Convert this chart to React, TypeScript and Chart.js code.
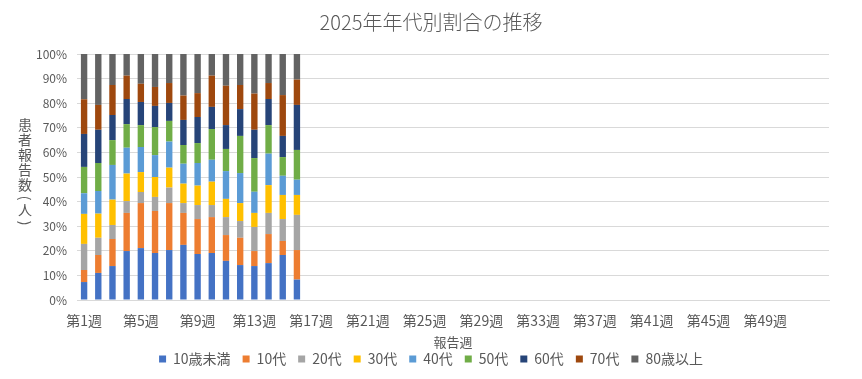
import React, { useEffect, useRef } from "react";
import { Chart, registerables } from "chart.js";

Chart.register(...registerables);

const weeks: string[] = Array.from({ length: 53 }, (_, i) => `第${i + 1}週`);

const seriesNames = ["10歳未満", "10代", "20代", "30代", "40代", "50代", "60代", "70代", "80歳以上"];
const seriesColors = ["#4472C4", "#ED7D31", "#A5A5A5", "#FFC000", "#5B9BD5", "#70AD47", "#264478", "#9E480E", "#636363"];

const under10 = [7.3, 11.0, 13.8, 19.9, 21.1, 19.1, 20.3, 22.4, 18.7, 19.1, 15.9, 14.2, 13.8, 15.0, 18.3, 8.3];
const age10s = [4.9, 7.3, 11.0, 15.5, 18.3, 17.1, 19.1, 13.0, 14.2, 14.6, 10.5, 11.1, 6.1, 11.8, 5.7, 12.0];
const age20s = [10.6, 7.0, 5.7, 4.8, 4.5, 5.7, 6.3, 4.0, 5.7, 4.9, 7.3, 6.8, 9.8, 8.6, 8.9, 14.3];
const age30s = [12.2, 9.8, 10.3, 11.2, 8.1, 8.1, 8.1, 7.9, 7.9, 9.5, 7.4, 7.3, 5.7, 11.3, 9.8, 8.1];
const age40s = [8.4, 9.2, 14.1, 10.5, 10.2, 8.9, 10.6, 8.1, 9.2, 8.9, 11.3, 12.2, 8.6, 12.8, 7.8, 6.2];
const age50s = [10.7, 11.4, 10.1, 9.6, 8.9, 11.4, 8.4, 7.6, 8.1, 12.5, 9.0, 15.1, 13.7, 11.6, 7.6, 12.1];
const age60s = [13.4, 13.5, 10.2, 10.2, 9.4, 8.6, 7.3, 10.2, 10.6, 9.0, 9.7, 10.9, 11.5, 10.6, 8.6, 18.3];
const age70s = [14.1, 10.1, 12.2, 9.5, 7.4, 7.7, 8.1, 9.9, 9.7, 12.7, 16.0, 9.8, 14.7, 6.5, 16.6, 10.3];
const over80 = [18.4, 20.7, 12.6, 8.8, 12.1, 13.4, 11.8, 16.9, 15.9, 8.8, 12.9, 12.6, 16.1, 11.8, 16.7, 10.4];

const seriesValues = [under10, age10s, age20s, age30s, age40s, age50s, age60s, age70s, over80];

const yTickValues = [0, 10, 20, 30, 40, 50, 60, 70, 80, 90, 100];
const yTitleChars = ["患", "者", "報", "告", "数", "(", "人", ")"];

const TEXT = "#595959";
const FONT = "'Noto Sans CJK JP', 'Noto Sans', sans-serif";

const yTitlePlugin = {
  id: "yTitleVertical",
  afterDraw(chart: any) {
    const ctx = chart.ctx;
    ctx.save();
    ctx.fillStyle = TEXT;
    ctx.font = `14px ${FONT}`;
    ctx.textAlign = "center";
    ctx.textBaseline = "middle";
    const x = 25;
    let y = 125;
    yTitleChars.forEach((ch) => {
      const paren = ch === "(" || ch === ")";
      if (paren) {
        ctx.save();
        ctx.translate(x, y - 2);
        ctx.rotate(Math.PI / 2);
        ctx.fillText(ch, 0, 0);
        ctx.restore();
        y += 10;
      } else {
        ctx.fillText(ch, x, y);
        y += 15;
      }
    });
    ctx.restore();
  },
};

export default function App() {
  const ref = useRef<HTMLCanvasElement | null>(null);

  useEffect(() => {
    document.body.style.margin = "0";
    if (!ref.current) return;
    Chart.defaults.font.family = FONT;
    Chart.defaults.color = TEXT;
    const chart = new Chart(ref.current, {
      type: "bar",
      data: {
        labels: weeks,
        datasets: seriesNames.map((name, i) => ({
          label: name,
          data: seriesValues[i],
          backgroundColor: seriesColors[i],
          borderWidth: 0,
          barPercentage: 0.45,
          categoryPercentage: 1,
        })),
      },
      options: {
        animation: false,
        responsive: false,
        layout: { padding: { left: 0, right: 0, top: 0, bottom: 3 } },
        plugins: {
          title: {
            display: true,
            text: "2025年年代別割合の推移",
            color: TEXT,
            font: { size: 20, weight: 300, lineHeight: 1.2 },
            padding: { top: 10, bottom: 20 },
          },
          legend: {
            position: "bottom",
            labels: {
              boxWidth: 7,
              boxHeight: 7,
              padding: 12,
              color: TEXT,
              font: { size: 14 },
            },
          },
          tooltip: { enabled: false },
        },
        scales: {
          x: {
            stacked: true,
            grid: { display: false, drawTicks: false },
            border: { display: true, color: "#d9d9d9" },
            ticks: {
              autoSkip: false,
              maxRotation: 0,
              minRotation: 0,
              padding: 12,
              color: TEXT,
              font: { size: 14 },
              callback: (_v: any, idx: number) => (idx % 4 === 0 && idx < 52 ? weeks[idx] : ""),
            },
            title: {
              display: true,
              text: "報告週",
              color: TEXT,
              font: { size: 13, lineHeight: 1.2 },
              padding: { top: 0, bottom: -10 },
            },
            afterFit: (s: any) => {
              s.height = 40;
            },
          },
          y: {
            stacked: true,
            min: 0,
            max: 100,
            afterBuildTicks: (s: any) => {
              s.ticks = yTickValues.map((v) => ({ value: v }));
            },
            grid: { color: "#d9d9d9", drawTicks: false },
            border: { display: false },
            ticks: {
              padding: 10,
              color: TEXT,
              font: { size: 12 },
              callback: (v: any) => `${v}%`,
            },
            afterFit: (s: any) => {
              s.width = 77;
            },
          },
          yR: {
            position: "right",
            display: true,
            grid: { display: false, drawTicks: false },
            border: { display: false },
            ticks: { display: false },
            afterFit: (s: any) => {
              s.width = 33;
            },
          },
        },
      },
      plugins: [yTitlePlugin],
    });
    return () => chart.destroy();
  }, []);

  return (
    <div style={{ width: 862, height: 379 }}>
      <canvas ref={ref} width={862} height={379} />
    </div>
  );
}
